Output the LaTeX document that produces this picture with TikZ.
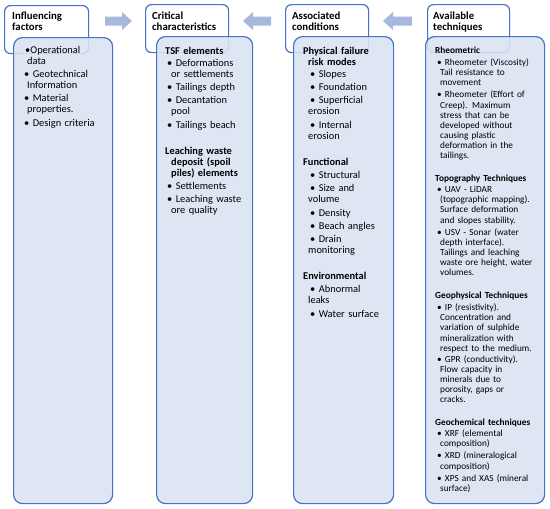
\documentclass[tikz,border=0pt]{standalone}
\usepackage{fontspec}
\setmainfont{Carlito}
\definecolor{bord}{HTML}{4472C4}
\definecolor{cfill}{HTML}{DAE3F3}
\definecolor{arr}{HTML}{A7B8DF}
\tikzset{
  hdr/.style={draw=bord, line width=1.2pt, fill=white, rounded corners=6pt, anchor=north west, inner sep=0pt},
  cbox/.style={draw=bord, line width=1.2pt, fill=cfill, fill opacity=0.88, rounded corners=9pt, anchor=north west, inner sep=0pt},
  htext/.style={anchor=base west, inner sep=0pt, align=left, text width=85pt, font=\fontsize{10.8}{11}\selectfont\bfseries},
  ctext/.style={anchor=base west, inner sep=0pt, align=left, text width=100pt, font=\fontsize{10.4}{11}\selectfont},
  stext/.style={anchor=base west, inner sep=0pt, align=left, text width=115pt, font=\fontsize{9.3}{10.1}\selectfont},
  blockarrow/.style={fill=arr, draw=none}
}
\newcommand{\bl}{\textbullet\ }
\begin{document}
\begin{tikzpicture}[x=1pt,y=-1pt]
\useasboundingbox (0,0) rectangle (550,509);
% headers
\node[hdr, minimum width=84pt, minimum height=48pt] (h1) at (4,5) {};
\node[hdr, minimum width=83pt, minimum height=48pt] (h2) at (145,4) {};
\node[hdr, minimum width=83pt, minimum height=48pt] (h3) at (285,4) {};
\node[hdr, minimum width=82pt, minimum height=48pt] (h4) at (427,4) {};
\node[htext] (t1) at (12,19.5) {Influencing\\factors};
\node[htext] (t2) at (152,19.5) {Critical\\characteristics};
\node[htext] (t3) at (292,19.5) {Associated\\conditions};
\node[htext] (t4) at (433,19.5) {Available\\techniques};
% content boxes
\node[cbox, minimum width=99pt, minimum height=466pt] (c1) at (13,37) {};
\node[cbox, minimum width=96pt, minimum height=467pt] (c2) at (156,36) {};
\node[cbox, minimum width=100pt, minimum height=467pt] (c3) at (293,36) {};
\node[cbox, minimum width=119pt, minimum height=467pt] (c4) at (425,36) {};
% arrows
\fill[blockarrow] (105,16.5) -- (122,16.5) -- (122,12) -- (132,21) -- (122,30) -- (122,25.5) -- (105,25.5) -- cycle;
\fill[blockarrow] (271,16.5) -- (253,16.5) -- (253,12) -- (243,21) -- (253,30) -- (253,25.5) -- (271,25.5) -- cycle;
\fill[blockarrow] (412,16.5) -- (393,16.5) -- (393,12) -- (383,21) -- (393,30) -- (393,25.5) -- (412,25.5) -- cycle;
% column texts
\node[ctext] (x1) at (24,53.5) {%
\hspace*{1pt}\textbullet Operational\\
\hspace*{3pt}data\\[2pt]
\bl Geotechnical\\
\hspace*{3pt}Information\\[2pt]
\bl Material\\
\hspace*{3pt}properties.\\[2.5pt]
\bl Design criteria};
\node[ctext] (x2) at (165,54.5) {%
\textbf{TSF elements}\\[1pt]
\hspace*{2pt}\bl Deformations\\
\hspace*{6pt}or settlements\\[2pt]
\hspace*{2pt}\bl Tailings depth\\[2pt]
\hspace*{2pt}\bl Decantation\\
\hspace*{6pt}pool\\[3pt]
\hspace*{2pt}\bl Tailings beach\\[15pt]
\textbf{Leaching waste}\\
\hspace*{6pt}\textbf{deposit (spoil}\\
\hspace*{6pt}\textbf{piles) elements}\\[2pt]
\hspace*{2pt}\bl Settlements\\[2pt]
\hspace*{2pt}\bl Leaching waste\\
\hspace*{6pt}ore quality};
\node[ctext] (x3) at (303,54.5) {%
\textbf{Physical failure}\\
\hspace*{5pt}\textbf{risk modes}\\[1pt]
\hspace*{7pt}\bl Slopes\\[2pt]
\hspace*{7pt}\bl Foundation\\[2pt]
\hspace*{7pt}\bl Superficial\\
\hspace*{5pt}erosion\\[3pt]
\hspace*{7pt}\bl Internal\\
\hspace*{5pt}erosion\\[15pt]
\textbf{Functional}\\[2pt]
\hspace*{7pt}\bl Structural\\[2pt]
\hspace*{7pt}\bl Size and\\
\hspace*{5pt}volume\\[3pt]
\hspace*{7pt}\bl Density\\[2pt]
\hspace*{7pt}\bl Beach angles\\[2pt]
\hspace*{7pt}\bl Drain\\
\hspace*{5pt}monitoring\\[15pt]
\textbf{Environmental}\\[2pt]
\hspace*{7pt}\bl Abnormal\\
\hspace*{5pt}leaks\\[3pt]
\hspace*{7pt}\bl Water surface};
\node[stext] (x4) at (435,53.5) {%
\textbf{Rheometric}\\[2pt]
\hspace*{2pt}\bl Rheometer (Viscosity)\\
\hspace*{5pt}Tail resistance to\\
\hspace*{5pt}movement\\[2pt]
\hspace*{2pt}\bl Rheometer (Effort of\\
\hspace*{5pt}Creep). Maximum\\
\hspace*{5pt}stress that can be\\
\hspace*{5pt}developed without\\
\hspace*{5pt}causing plastic\\
\hspace*{5pt}deformation in the\\
\hspace*{5pt}tailings.\\[13pt]
\textbf{Topography Techniques}\\[1pt]
\hspace*{2pt}\bl UAV - LiDAR\\
\hspace*{5pt}(topographic mapping).\\
\hspace*{5pt}Surface deformation\\
\hspace*{5pt}and slopes stability.\\[2pt]
\hspace*{2pt}\bl USV - Sonar (water\\
\hspace*{5pt}depth interface).\\
\hspace*{5pt}Tailings and leaching\\
\hspace*{5pt}waste ore height, water\\
\hspace*{5pt}volumes.\\[13pt]
\textbf{Geophysical Techniques}\\[2pt]
\hspace*{2pt}\bl IP (resistivity).\\
\hspace*{5pt}Concentration and\\
\hspace*{5pt}variation of sulphide\\
\hspace*{5pt}mineralization with\\
\hspace*{5pt}respect to the medium.\\[1pt]
\hspace*{2pt}\bl GPR (conductivity).\\
\hspace*{5pt}Flow capacity in\\
\hspace*{5pt}minerals due to\\
\hspace*{5pt}porosity, gaps or\\
\hspace*{5pt}cracks.\\[13pt]
\textbf{Geochemical techniques}\\[1pt]
\hspace*{2pt}\bl XRF (elemental\\
\hspace*{5pt}composition)\\[2pt]
\hspace*{2pt}\bl XRD (mineralogical\\
\hspace*{5pt}composition)\\[2pt]
\hspace*{2pt}\bl XPS and XAS (mineral\\
\hspace*{5pt}surface)};
\end{tikzpicture}
\end{document}
